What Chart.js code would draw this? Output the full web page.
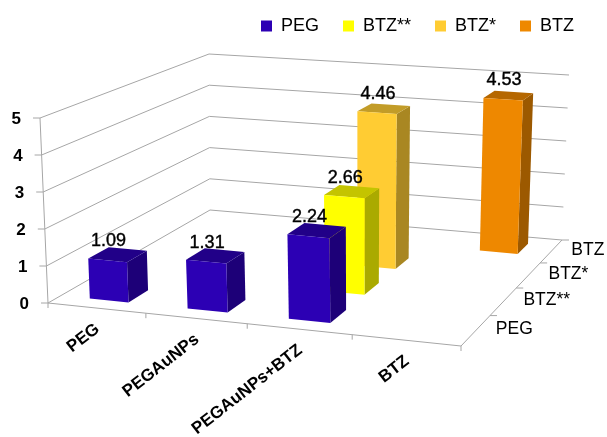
<!DOCTYPE html>
<html>
<head>
<meta charset="utf-8">
<title>Bar chart</title>
<style>
  html, body { margin: 0; padding: 0; background: #fff; }
  canvas { display: block; }
</style>
<script src="https://cdn.jsdelivr.net/npm/chart.js@4"></script>
</head>
<body>
<canvas id="chart" width="607" height="437"></canvas>
<script>
const categories = ['PEG', 'PEGAuNPs', 'PEGAuNPs+BTZ', 'BTZ'];
const seriesNames = ['PEG', 'BTZ**', 'BTZ*', 'BTZ'];
const pegValues = [1.09, 1.31, 2.24, null];
const btz2Values = [null, null, 2.66, null];
const btz1Values = [null, null, 4.46, null];
const btzValues = [null, null, null, 4.53];
const maxValue = 5;

// front left, front right, back right, back left
const floorQuad = [[48, 303], [461, 346], [562, 240], [210, 210]];
const ceilingQuad = [[40, 118], [467, 151], [569, 75], [209, 54]];

const FONT = '"Liberation Sans", Arial, sans-serif';
const GRID = '#a6a6a6';
const BAR_WIDTH = 0.4;
const BAR_DEPTH = 0.45;

// unit square to quad (perspective)
function squareToQuad(q) {
  const [[x0, y0], [x1, y1], [x2, y2], [x3, y3]] = q;
  const dx1 = x1 - x2, dx2 = x3 - x2, sx = x0 - x1 + x2 - x3;
  const dy1 = y1 - y2, dy2 = y3 - y2, sy = y0 - y1 + y2 - y3;
  const det = dx1 * dy2 - dx2 * dy1;
  const g = (sx * dy2 - dx2 * sy) / det;
  const h = (dx1 * sy - sx * dy1) / det;
  const a = x1 - x0 + g * x1, b = x3 - x0 + h * x3;
  const d = y1 - y0 + g * y1, e = y3 - y0 + h * y3;
  return (u, v) => {
    const w = g * u + h * v + 1;
    return [(a * u + b * v + x0) / w, (d * u + e * v + y0) / w];
  };
}

const floorAt = squareToQuad(floorQuad);
const ceilingAt = squareToQuad(ceilingQuad);

// u along categories, v along series, t up the value axis, all 0..1
function project(u, v, t) {
  const f = floorAt(u, v);
  const c = ceilingAt(u, v);
  return [f[0] + (c[0] - f[0]) * t, f[1] + (c[1] - f[1]) * t];
}

function fraction(scale, value) {
  const p = scale.getPixelForValue(value);
  return scale.isHorizontal() ? (p - scale.left) / scale.width : (scale.bottom - p) / scale.height;
}

function fillFace(ctx, pts, color) {
  ctx.beginPath();
  pts.forEach((p, i) => (i ? ctx.lineTo(p[0], p[1]) : ctx.moveTo(p[0], p[1])));
  ctx.closePath();
  ctx.fillStyle = color;
  ctx.fill();
}

function line(ctx, a, b) {
  ctx.beginPath();
  ctx.moveTo(a[0], a[1]);
  ctx.lineTo(b[0], b[1]);
  ctx.stroke();
}

// slightly heavier than plain regular weight
function heavyText(ctx, text, x, y) {
  ctx.fillText(text, x, y);
  ctx.strokeStyle = '#000';
  ctx.lineWidth = 0.4;
  ctx.strokeText(text, x, y);
}

// Bars as prisms standing on the floor; the series picks the row.
class Bar3dController extends Chart.BarController {
  static id = 'bar3d';

  draw() {
    const meta = this.getMeta();
    const ctx = this.chart.ctx;
    const ds = this.getDataset();
    const xScale = meta.xScale;
    const yScale = meta.yScale;
    const zScale = this.chart.scales.z;
    const v0 = fraction(zScale, seriesNames.indexOf(ds.label));
    const du = 0.5 * BAR_WIDTH / categories.length;
    const dv = 0.5 * BAR_DEPTH / seriesNames.length;

    ds.data.forEach((val, i) => {
      if (val === null) return;
      const u0 = fraction(xScale, i);
      const t = fraction(yScale, val);
      const fl = project(u0 - du, v0 - dv, 0), fr = project(u0 + du, v0 - dv, 0), br = project(u0 + du, v0 + dv, 0);
      const tfl = project(u0 - du, v0 - dv, t), tfr = project(u0 + du, v0 - dv, t);
      const tbr = project(u0 + du, v0 + dv, t), tbl = project(u0 - du, v0 + dv, t);
      fillFace(ctx, [fr, br, tbr, tfr], ds.sideColor);
      fillFace(ctx, [tfl, tfr, tbr, tbl], ds.topColor);
      fillFace(ctx, [fl, fr, tfr, tfl], ds.backgroundColor);

      const front = project(u0, v0 - dv, t);
      ctx.save();
      ctx.fillStyle = '#000';
      ctx.font = '18px ' + FONT;
      ctx.textAlign = 'center';
      ctx.textBaseline = 'middle';
      heavyText(ctx, val.toFixed(2), front[0] + 1, front[1] - 19);
      ctx.restore();
    });
  }
}

const walls = {
  id: 'walls',
  beforeDatasetsDraw(chart) {
    const { ctx, scales } = chart;
    const yTicks = scales.y.ticks;
    ctx.save();
    ctx.strokeStyle = GRID;
    ctx.lineWidth = 1;

    yTicks.forEach(tick => {
      const t = fraction(scales.y, tick.value);
      const left = project(0, 0, t), back = project(0, 1, t), right = project(1, 1, t);
      line(ctx, left, back);
      line(ctx, back, right);
      line(ctx, left, [left[0] - 7, left[1]]);
    });
    line(ctx, project(0, 0, 0), project(0, 0, 1));
    line(ctx, project(0, 0, 0), project(1, 0, 0));
    line(ctx, project(1, 0, 0), project(1, 1, 0));

    // ticks sit on the cell boundaries
    for (let i = 0; i <= categories.length; i++) {
      const p = project(i / categories.length, 0, 0);
      line(ctx, p, [p[0], p[1] + 5]);
    }
    for (let i = 1; i <= seriesNames.length; i++) {
      const p = project(1, i / seriesNames.length, 0);
      line(ctx, p, [p[0] + 7, p[1]]);
    }
    ctx.restore();
  },
  afterDatasetsDraw(chart) {
    const { ctx, scales } = chart;
    ctx.save();
    ctx.fillStyle = '#000';
    ctx.textBaseline = 'middle';

    ctx.font = 'bold 17px ' + FONT;
    ctx.textAlign = 'right';
    scales.y.ticks.forEach(tick => {
      const p = project(0, 0, fraction(scales.y, tick.value));
      ctx.fillText(tick.label, p[0] - 19, p[1] + 1);
    });

    categories.forEach((name, i) => {
      const p = project(fraction(scales.x, i), 0, 0);
      ctx.save();
      ctx.translate(p[0] + 1, p[1] + 19);
      ctx.rotate(-38 * Math.PI / 180);
      ctx.fillText(name, 0, 0);
      ctx.restore();
    });

    ctx.font = '17.5px ' + FONT;
    ctx.textAlign = 'left';
    seriesNames.forEach((name, i) => {
      const p = project(1, fraction(scales.z, i), 0);
      ctx.fillText(name, p[0] + 20, p[1] - 1);
    });
    ctx.restore();
  }
};

Chart.register(Bar3dController);

new Chart(document.getElementById('chart'), {
  type: 'bar3d',
  data: {
    labels: categories,
    datasets: [
      { label: seriesNames[0], data: pegValues, backgroundColor: '#2c00b4', sideColor: '#1d0078', topColor: '#210088' },
      { label: seriesNames[1], data: btz2Values, backgroundColor: '#ffff00', sideColor: '#aaaa00', topColor: '#c4c400' },
      { label: seriesNames[2], data: btz1Values, backgroundColor: '#ffcc33', sideColor: '#a98722', topColor: '#c29c28' },
      { label: seriesNames[3], data: btzValues, backgroundColor: '#ee8800', sideColor: '#9c5900', topColor: '#b56700' }
    ]
  },
  options: {
    responsive: false,
    animation: false,
    layout: { padding: { right: 9, top: -7 } },
    scales: {
      x: { type: 'category', display: false, offset: true },
      y: { type: 'linear', display: false, min: 0, max: maxValue, ticks: { stepSize: 1 } },
      z: { type: 'category', axis: 'x', labels: seriesNames, display: false, offset: true }
    },
    plugins: {
      title: { display: false },
      tooltip: { enabled: false },
      legend: {
        position: 'top',
        align: 'end',
        labels: {
          boxWidth: 11,
          boxHeight: 11,
          padding: 24,
          color: '#000',
          font: { size: 18, family: FONT }
        }
      }
    }
  },
  plugins: [walls]
});
</script>
</body>
</html>
